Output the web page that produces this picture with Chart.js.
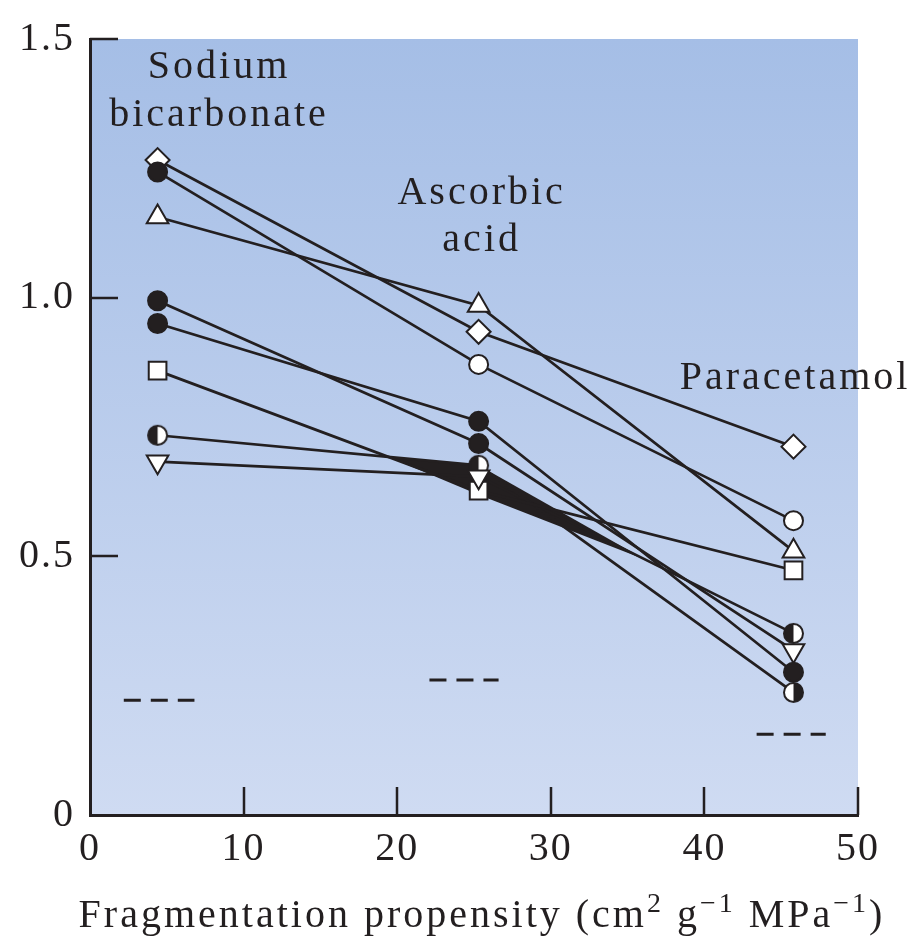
<!DOCTYPE html>
<html>
<head>
<meta charset="utf-8">
<title>Fragmentation propensity</title>
<script src="https://cdn.jsdelivr.net/npm/chart.js@4.4.1/dist/chart.umd.min.js"></script>
<style>
  html, body { margin: 0; padding: 0; background: #ffffff; }
  #wrap { width: 920px; height: 941px; }
</style>
</head>
<body>
<div id="wrap"><canvas id="fragChart" width="920" height="941"></canvas></div>
<script>
// where each material sits on the fragmentation propensity axis
const materials = ['Sodium bicarbonate', 'Ascorbic acid', 'Paracetamol'];
const materialX = [4.4, 25.3, 45.8];

// one entry per connected series (same index = same line)
const sodiumValues = [1.266, 1.243, 1.156, 0.994, 0.950, 0.859, 0.734, 0.683];
const ascorbicValues = [0.934, 0.871, 0.985, 0.718, 0.761, 0.627, 0.676, 0.654];
const paracetamolValues = [0.712, 0.569, 0.510, 0.318, 0.276, 0.473, 0.237, 0.351];

const sodiumMarkers = ['diamond', 'dot', 'triangle', 'dot', 'dot', 'square', 'halfLeft', 'down'];
const ascorbicMarkers = ['diamond', 'circle', 'triangle', 'dot', 'dot', 'square', 'halfLeft', 'down'];
const paracetamolMarkers = ['diamond', 'circle', 'triangle', 'down', 'dot', 'square', 'halfRight', 'halfLeft'];

// short dashed levels below each material
const dashLevels = [0.222, 0.261, 0.156];
const dashFrom = [2.2, 22.1, 43.4];
const dashTo = [6.8, 26.6, 47.9];

const xTicks = [0, 10, 20, 30, 40, 50];
const yTicks = [0, 0.5, 1.0, 1.5];

const INK = '#231f20';
const WHITE = '#ffffff';
const SERIF = "'Liberation Serif', 'Times New Roman', serif";

function halfCircle(blackLeft) {
  const r = 9.5, bw = 2;
  const size = 2 * (r + bw) + 2;
  const c = document.createElement('canvas');
  c.width = size; c.height = size;
  const g = c.getContext('2d');
  const m = size / 2;
  g.beginPath(); g.arc(m, m, r, 0, Math.PI * 2); g.fillStyle = WHITE; g.fill();
  g.beginPath();
  if (blackLeft) g.arc(m, m, r, Math.PI / 2, Math.PI * 1.5);
  else g.arc(m, m, r, -Math.PI / 2, Math.PI / 2);
  g.closePath(); g.fillStyle = INK; g.fill();
  g.beginPath(); g.arc(m, m, r, 0, Math.PI * 2);
  g.lineWidth = bw; g.strokeStyle = INK; g.stroke();
  return c;
}
const halfLeftImg = halfCircle(true);
const halfRightImg = halfCircle(false);

function markerStyle(name) {
  switch (name) {
    case 'diamond': return { style: 'rectRot', radius: 12, rot: 0, fill: WHITE };
    case 'circle': return { style: 'circle', radius: 9.5, rot: 0, fill: WHITE };
    case 'dot': return { style: 'circle', radius: 9.5, rot: 0, fill: INK };
    case 'triangle': return { style: 'triangle', radius: 12.5, rot: 0, fill: WHITE };
    case 'down': return { style: 'triangle', radius: 12.5, rot: 180, fill: WHITE };
    case 'square': return { style: 'rect', radius: 12.5, rot: 0, fill: WHITE };
    case 'halfLeft': return { style: halfLeftImg, radius: 9.5, rot: 0, fill: WHITE };
    default: return { style: halfRightImg, radius: 9.5, rot: 0, fill: WHITE };
  }
}

const columns = [sodiumValues, ascorbicValues, paracetamolValues];
const markerColumns = [sodiumMarkers, ascorbicMarkers, paracetamolMarkers];

const datasets = [];

// connecting lines
sodiumValues.forEach((v, i) => {
  datasets.push({
    label: 'series ' + (i + 1),
    data: columns.map((col, m) => ({ x: materialX[m], y: col[i] })),
    showLine: true,
    borderColor: INK,
    borderWidth: 2.7,
    pointRadius: 0,
    order: 2
  });
});

// dashed levels
dashLevels.forEach((lvl, i) => {
  datasets.push({
    label: 'level ' + (i + 1),
    data: [{ x: dashFrom[i], y: lvl }, { x: dashTo[i], y: lvl }],
    showLine: true,
    borderColor: INK,
    borderWidth: 3,
    borderDash: [17, 10],
    borderCapStyle: 'butt',
    pointRadius: 0,
    order: 2
  });
});

// markers, drawn on top of all lines
materials.forEach((name, m) => {
  const styles = markerColumns[m].map(markerStyle);
  datasets.push({
    label: name,
    data: columns[m].map(v => ({ x: materialX[m], y: v })),
    showLine: false,
    pointStyle: styles.map(s => s.style),
    pointRadius: styles.map(s => s.radius),
    pointRotation: styles.map(s => s.rot),
    pointBackgroundColor: styles.map(s => s.fill),
    pointBorderColor: INK,
    pointBorderWidth: 2,
    order: 1
  });
});

const backgroundPlugin = {
  id: 'plotBackground',
  beforeDraw(chart) {
    const { ctx, chartArea: a } = chart;
    const grad = ctx.createLinearGradient(0, a.top, 0, a.bottom);
    grad.addColorStop(0, '#a5bee6');
    grad.addColorStop(1, '#cfdbf2');
    ctx.save();
    ctx.fillStyle = grad;
    ctx.fillRect(a.left, a.top, a.right - a.left, a.bottom - a.top);
    ctx.restore();
    ctx.letterSpacing = '2px';
  }
};

function intersect(p1, p2, p3, p4) {
  const d = (p1.x - p2.x) * (p3.y - p4.y) - (p1.y - p2.y) * (p3.x - p4.x);
  const a = p1.x * p2.y - p1.y * p2.x;
  const b = p3.x * p4.y - p3.y * p4.x;
  return {
    x: (a * (p3.x - p4.x) - (p1.x - p2.x) * b) / d,
    y: (a * (p3.y - p4.y) - (p1.y - p2.y) * b) / d
  };
}

// the dark overlap band where the lines bunch up around ascorbic acid
const wedgePlugin = {
  id: 'wedge',
  beforeDatasetsDraw(chart, args, opts) {
    const { ctx, scales: { x, y } } = chart;
    const px = (m, i) => ({ x: x.getPixelForValue(materialX[m]), y: y.getPixelForValue(columns[m][i]) });
    const a1 = px(0, opts.upper), a2 = px(1, opts.upper);
    const b1 = px(0, opts.lower), b2 = px(1, opts.lower);
    const left = intersect(a1, a2, b1, b2);
    const t1 = px(1, opts.tail), t2 = px(2, opts.tail);
    const tip = { x: t1.x + (t2.x - t1.x) * opts.reach, y: t1.y + (t2.y - t1.y) * opts.reach };
    ctx.save();
    ctx.beginPath();
    ctx.moveTo(left.x, left.y);
    ctx.lineTo(a2.x, a2.y);
    ctx.lineTo(tip.x, tip.y);
    ctx.lineTo(b2.x, b2.y + 4);
    ctx.closePath();
    ctx.fillStyle = INK;
    ctx.fill();
    ctx.restore();
  }
};

const inwardTicksPlugin = {
  id: 'inwardTicks',
  afterDatasetsDraw(chart, args, opts) {
    const { ctx, chartArea: a, scales: { x, y } } = chart;
    ctx.save();
    ctx.strokeStyle = INK;
    ctx.lineWidth = 2.5;
    ctx.beginPath();
    xTicks.filter(v => v !== 0).forEach(v => {
      const p = Math.round(x.getPixelForValue(v));
      ctx.moveTo(p, a.bottom);
      ctx.lineTo(p, a.bottom - opts.length);
    });
    yTicks.filter(v => v !== 0).forEach(v => {
      const p = Math.round(y.getPixelForValue(v));
      ctx.moveTo(a.left, p);
      ctx.lineTo(a.left + opts.length, p);
    });
    ctx.stroke();
    ctx.restore();
  }
};

const textPlugin = {
  id: 'chartText',
  afterDraw(chart, args, opts) {
    const { ctx, scales: { x, y } } = chart;
    ctx.save();
    ctx.fillStyle = INK;
    ctx.letterSpacing = '3px';
    ctx.textAlign = 'center';
    ctx.textBaseline = 'alphabetic';
    ctx.font = '40px ' + SERIF;
    opts.groups.forEach(g => {
      g.lines.forEach((line, k) => {
        ctx.fillText(line, x.getPixelForValue(g.x), y.getPixelForValue(g.y[k]));
      });
    });

    // x axis title with superscripts
    const parts = opts.title;
    ctx.textAlign = 'left';
    const width = parts.reduce((w, p) => {
      ctx.font = (p.sup ? '28px ' : '40px ') + SERIF;
      return w + ctx.measureText(p.t).width;
    }, 0);
    let cx = opts.titleX - width / 2;
    parts.forEach(p => {
      ctx.font = (p.sup ? '28px ' : '40px ') + SERIF;
      ctx.fillText(p.t, cx, opts.titleY - (p.sup ? 15 : 0));
      cx += ctx.measureText(p.t).width;
    });
    ctx.restore();
  }
};

Chart.defaults.font.family = SERIF;
Chart.defaults.color = INK;

new Chart(document.getElementById('fragChart'), {
  type: 'scatter',
  data: { datasets: datasets },
  plugins: [backgroundPlugin, wedgePlugin, inwardTicksPlugin, textPlugin],
  options: {
    responsive: false,
    animation: false,
    events: [],
    layout: { padding: { left: 0, right: 62, top: 38, bottom: 0 } },
    scales: {
      x: {
        type: 'linear',
        min: 0,
        max: 50,
        afterBuildTicks: s => { s.ticks = xTicks.map(v => ({ value: v })); },
        afterFit: s => { s.height = 126; },
        grid: { display: true, drawOnChartArea: false, drawTicks: false },
        border: { display: true, color: INK, width: 3 },
        ticks: {
          font: { size: 40, family: SERIF },
          color: INK,
          padding: 10,
          maxRotation: 0,
          callback: v => String(v)
        }
      },
      y: {
        type: 'linear',
        min: 0,
        max: 1.5,
        afterBuildTicks: s => { s.ticks = yTicks.map(v => ({ value: v })); },
        afterFit: s => { s.width = 90; },
        grid: { display: true, drawOnChartArea: false, drawTicks: false },
        border: { display: true, color: INK, width: 3 },
        ticks: {
          font: { size: 40, family: SERIF },
          color: INK,
          padding: 15,
          callback: v => (v === 0 ? '0' : v.toFixed(1))
        }
      }
    },
    plugins: {
      legend: { display: false },
      tooltip: { enabled: false },
      wedge: { upper: 6, lower: 5, tail: 7, reach: 0.53 },
      inwardTicks: { length: 28 },
      chartText: {
        groups: [
          { lines: ['Sodium', 'bicarbonate'], x: 8.4, y: [1.425, 1.332] },
          { lines: ['Ascorbic', 'acid'], x: 25.5, y: [1.181, 1.091] },
          { lines: ['Paracetamol'], x: 45.9, y: [0.824] }
        ],
        title: [
          { t: 'Fragmentation propensity (cm' },
          { t: '2', sup: true },
          { t: ' g' },
          { t: '\u22121', sup: true },
          { t: ' MPa' },
          { t: '\u22121', sup: true },
          { t: ')' }
        ],
        titleX: 482,
        titleY: 927
      }
    }
  }
});
</script>
</body>
</html>
